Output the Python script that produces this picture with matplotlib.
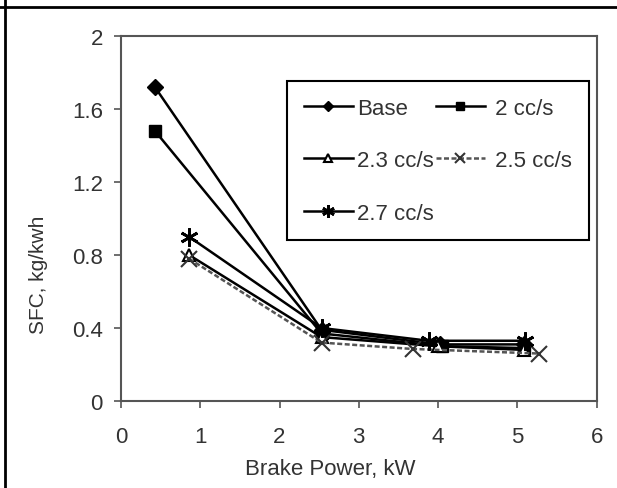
import matplotlib.pyplot as plt
from matplotlib.lines import Line2D

plt.rcParams["font.family"] = ["Liberation Sans", "DejaVu Sans"]

# SFC vs brake power for each injection rate
base_x = [0.43, 2.53, 4.02, 5.08]
base_y = [1.72, 0.39, 0.31, 0.31]
cc20_x = [0.43, 2.53, 4.05, 5.08]
cc20_y = [1.48, 0.37, 0.30, 0.29]
cc23_x = [0.86, 2.53, 4.00, 5.08]
cc23_y = [0.80, 0.35, 0.30, 0.28]
cc25_x = [0.86, 2.53, 3.68, 5.27]
cc25_y = [0.78, 0.32, 0.285, 0.26]
cc27_x = [0.86, 2.53, 3.88, 5.10]
cc27_y = [0.90, 0.40, 0.33, 0.33]

x_ticks = [0, 1, 2, 3, 4, 5, 6]
y_ticks = [0, 0.4, 0.8, 1.2, 1.6, 2]
y_tick_labels = ["0", "0.4", "0.8", "1.2", "1.6", "2"]

text_color = "#333333"
fs = 16

fig = plt.figure(figsize=(6.17, 4.89), dpi=100)
ax = fig.add_axes([0.196, 0.178, 0.771, 0.746])

lw = 1.8
h_base, = ax.plot(base_x, base_y, color="black", lw=lw, marker="D", ms=8,
                  mfc="black", label="Base")
h_20, = ax.plot(cc20_x, cc20_y, color="black", lw=lw, marker="s", ms=9,
                mfc="black", label=" 2 cc/s")
h_23, = ax.plot(cc23_x, cc23_y, color="black", lw=lw, marker="^", ms=9,
                mfc="white", mew=1.5, label="2.3 cc/s")
h_25, = ax.plot(cc25_x, cc25_y, color="#555555", lw=lw, ls=(0, (2, 1)),
                marker="x", ms=11, mew=1.5, mec="#333333", label=" 2.5 cc/s")
h_27, = ax.plot(cc27_x, cc27_y, color="black", lw=lw, marker=(6, 2, 0), ms=13,
                mew=2, label="2.7 cc/s")

ax.set_xlim(0, 6)
ax.set_ylim(0, 2)
ax.set_xticks(x_ticks)
ax.set_yticks(y_ticks)
ax.set_yticklabels(y_tick_labels)
ax.tick_params(direction="out", length=5, width=1.2, colors="#555555",
               labelcolor=text_color, labelsize=fs)
ax.tick_params(axis="x", pad=13)
ax.tick_params(axis="y", pad=8)
for s in ax.spines.values():
    s.set_color("#555555")
    s.set_linewidth(1.5)

ax.set_xlabel("Brake Power, kW", fontsize=fs, color=text_color, va="center")
ax.xaxis.set_label_coords(0.439, -0.186)
ax.set_ylabel("SFC, kg/kwh", fontsize=15, color=text_color, va="center")
ax.yaxis.set_label_coords(-0.174, 0.348)

leg = ax.legend(handles=[h_base, h_23, h_27, h_20, h_25], ncol=2,
                loc="upper left", bbox_to_anchor=(0.349, 0.877),
                borderaxespad=0, fontsize=fs, markerscale=0.7,
                handlelength=2.2, handletextpad=0.2, columnspacing=0.1,
                labelspacing=1.42, borderpad=0.75, fancybox=False,
                framealpha=1, edgecolor="black")
leg.get_frame().set_linewidth(1.5)
for t in leg.get_texts():
    t.set_color(text_color)

# page border lines around the figure
fig.add_artist(Line2D([0, 1], [0.983, 0.983], color="black", lw=2,
                      transform=fig.transFigure))
fig.add_artist(Line2D([0.008, 0.008], [0, 1], color="black", lw=2,
                      transform=fig.transFigure))

fig.savefig("out.png", dpi=100)
